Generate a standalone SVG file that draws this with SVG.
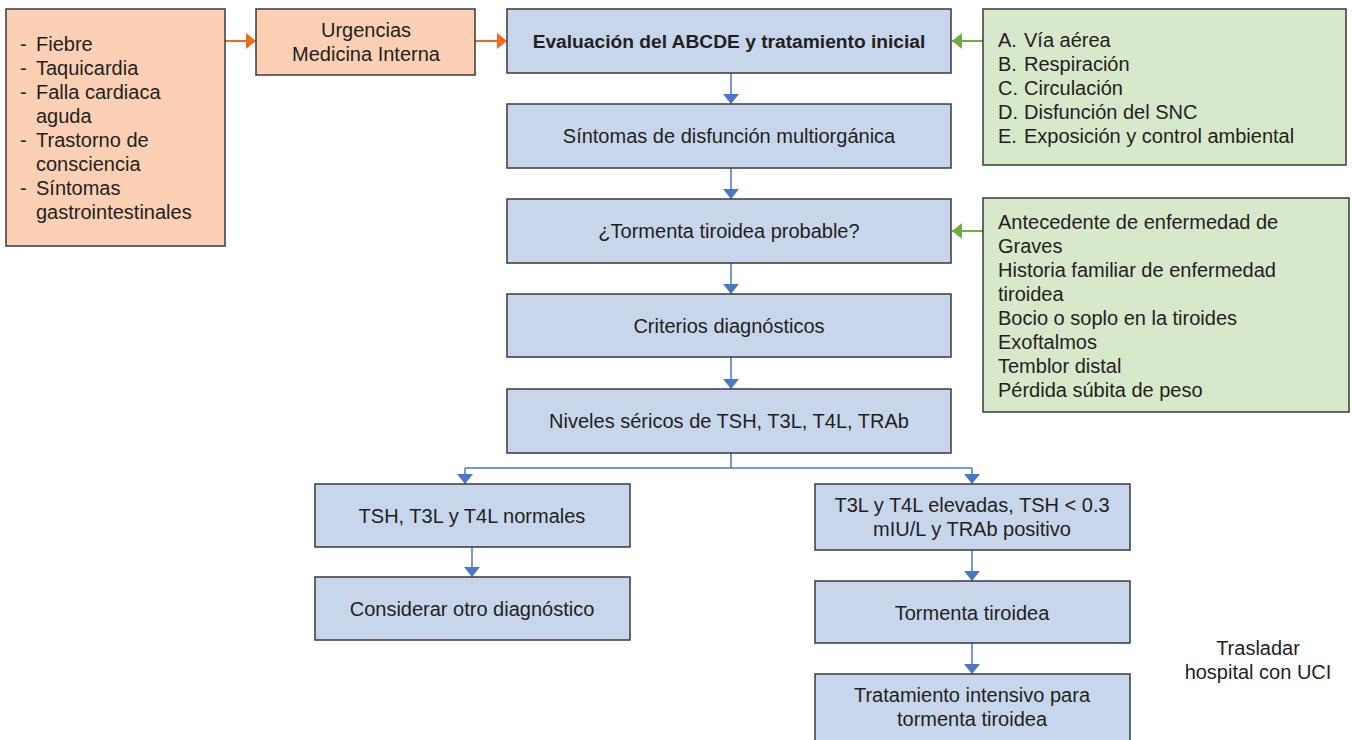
<svg xmlns="http://www.w3.org/2000/svg" width="1352" height="740" viewBox="0 0 1352 740">
<style>
text{font-family:"Liberation Sans",Arial,sans-serif;font-size:20px;fill:#231f20}
.c{text-anchor:middle}
.b{font-weight:bold;font-size:19.2px}
.blue{fill:#c8d6ec;stroke:#3a3a3a;stroke-width:1.5}
.org{fill:#fbd0b4;stroke:#3a3a3a;stroke-width:1.5}
.grn{fill:#d7e8cb;stroke:#3a3a3a;stroke-width:1.5}
.lb{stroke:#4a78c8;stroke-width:1.5;fill:none}
.lo{stroke:#f26b1d;stroke-width:2;fill:none}
.lg{stroke:#6fae45;stroke-width:2;fill:none}
</style>
<defs>
<marker id="ab" markerUnits="userSpaceOnUse" markerWidth="18" markerHeight="12" refX="8" refY="10" orient="0" viewBox="0 0 18 12"><path d="M0,0 L16,0 L8,10 Z" fill="#4a78c8"/></marker>
<marker id="ao" markerUnits="userSpaceOnUse" markerWidth="12" markerHeight="16" refX="10" refY="8" orient="0" viewBox="0 0 12 16"><path d="M0,0 L10,8 L0,16 Z" fill="#f26b1d"/></marker>
<marker id="ag" markerUnits="userSpaceOnUse" markerWidth="12" markerHeight="16" refX="0" refY="8" orient="0" viewBox="0 0 12 16"><path d="M10,0 L0,8 L10,16 Z" fill="#6fae45"/></marker>
</defs>
<rect width="1352" height="740" fill="#fff"/>
<g id="connectors">
<line class="lo" x1="225" y1="41" x2="256" y2="41" marker-end="url(#ao)"/>
<line class="lo" x1="475" y1="41" x2="507" y2="41" marker-end="url(#ao)"/>
<line class="lg" x1="983" y1="41" x2="952" y2="41" marker-end="url(#ag)"/>
<line class="lg" x1="983" y1="231" x2="952" y2="231" marker-end="url(#ag)"/>
<line class="lb" x1="731" y1="73" x2="731" y2="104" marker-end="url(#ab)"/>
<line class="lb" x1="731" y1="168" x2="731" y2="199" marker-end="url(#ab)"/>
<line class="lb" x1="731" y1="263" x2="731" y2="294" marker-end="url(#ab)"/>
<line class="lb" x1="731" y1="357" x2="731" y2="389" marker-end="url(#ab)"/>
<polyline class="lb" points="731,453 731,468 465,468"/>
<line class="lb" x1="731" y1="468" x2="972" y2="468"/>
<line class="lb" x1="465" y1="468" x2="465" y2="484" marker-end="url(#ab)"/>
<line class="lb" x1="972" y1="468" x2="972" y2="484" marker-end="url(#ab)"/>
<line class="lb" x1="472" y1="547" x2="472" y2="577" marker-end="url(#ab)"/>
<line class="lb" x1="972" y1="550" x2="972" y2="581" marker-end="url(#ab)"/>
<line class="lb" x1="972" y1="643" x2="972" y2="674" marker-end="url(#ab)"/>
</g>
<g id="sintomas">
<rect class="org" x="6" y="9" width="219" height="237"/>
<text x="20" y="51">-</text><text x="36" y="51">Fiebre</text>
<text x="20" y="75">-</text><text x="36" y="75">Taquicardia</text>
<text x="20" y="99">-</text><text x="36" y="99">Falla cardiaca</text>
<text x="36" y="123">aguda</text>
<text x="20" y="147">-</text><text x="36" y="147">Trastorno de</text>
<text x="36" y="171">consciencia</text>
<text x="20" y="195">-</text><text x="36" y="195">Síntomas</text>
<text x="36" y="219">gastrointestinales</text>
</g>
<g id="urgencias">
<rect class="org" x="256" y="9" width="219" height="66"/>
<text class="c" x="366" y="37">Urgencias</text>
<text class="c" x="366" y="61">Medicina Interna</text>
</g>
<g id="abcde">
<rect class="blue" x="507" y="9" width="444" height="64"/>
<text class="c b" x="729" y="48">Evaluación del ABCDE y tratamiento inicial</text>
</g>
<g id="abcde-lista">
<rect class="grn" x="983" y="9" width="363" height="156"/>
<text x="998" y="47">A.</text><text x="1024" y="47">Vía aérea</text>
<text x="998" y="71">B.</text><text x="1024" y="71">Respiración</text>
<text x="998" y="95">C.</text><text x="1024" y="95">Circulación</text>
<text x="998" y="119">D.</text><text x="1024" y="119">Disfunción del SNC</text>
<text x="998" y="143">E.</text><text x="1024" y="143">Exposición y control ambiental</text>
</g>
<g id="disfuncion">
<rect class="blue" x="507" y="104" width="444" height="64"/>
<text class="c" x="729" y="143">Síntomas de disfunción multiorgánica</text>
</g>
<g id="probable">
<rect class="blue" x="507" y="199" width="444" height="64"/>
<text class="c" x="729" y="238">¿Tormenta tiroidea probable?</text>
</g>
<g id="antecedentes">
<rect class="grn" x="983" y="198" width="366" height="214"/>
<text x="998" y="229">Antecedente de enfermedad de</text>
<text x="998" y="253">Graves</text>
<text x="998" y="277">Historia familiar de enfermedad</text>
<text x="998" y="301">tiroidea</text>
<text x="998" y="325">Bocio o soplo en la tiroides</text>
<text x="998" y="349">Exoftalmos</text>
<text x="998" y="373">Temblor distal</text>
<text x="998" y="397">Pérdida súbita de peso</text>
</g>
<g id="criterios">
<rect class="blue" x="507" y="294" width="444" height="63"/>
<text class="c" x="729" y="333">Criterios diagnósticos</text>
</g>
<g id="niveles">
<rect class="blue" x="507" y="389" width="444" height="64"/>
<text class="c" x="729" y="428">Niveles séricos de TSH, T3L, T4L, TRAb</text>
</g>
<g id="normales">
<rect class="blue" x="315" y="484" width="315" height="63"/>
<text class="c" x="472" y="523">TSH, T3L y T4L normales</text>
</g>
<g id="elevadas">
<rect class="blue" x="815" y="484" width="315" height="66"/>
<text class="c" x="972" y="512">T3L y T4L elevadas, TSH &lt; 0.3</text>
<text class="c" x="972" y="536">mIU/L y TRAb positivo</text>
</g>
<g id="otro">
<rect class="blue" x="315" y="577" width="315" height="63"/>
<text class="c" x="472" y="616">Considerar otro diagnóstico</text>
</g>
<g id="tormenta">
<rect class="blue" x="815" y="581" width="315" height="62"/>
<text class="c" x="972" y="620">Tormenta tiroidea</text>
</g>
<g id="tratamiento">
<rect class="blue" x="815" y="674" width="315" height="80"/>
<text class="c" x="972" y="702">Tratamiento intensivo para</text>
<text class="c" x="972" y="726">tormenta tiroidea</text>
</g>
<g id="trasladar">
<text class="c" x="1258" y="655">Trasladar</text>
<text class="c" x="1258" y="679">hospital con UCI</text>
</g>
</svg>
